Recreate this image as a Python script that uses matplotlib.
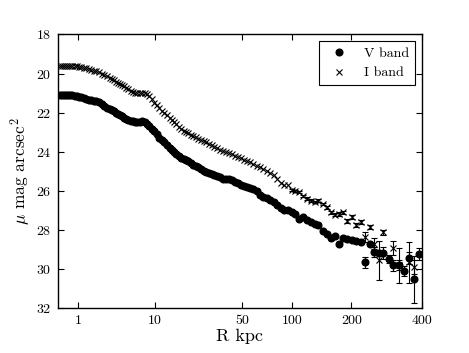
import numpy as np
import matplotlib
matplotlib.use("Agg")
import matplotlib.pyplot as plt
from matplotlib.ticker import NullLocator

plt.rcParams['font.family'] = 'cmr10'
plt.rcParams['mathtext.fontset'] = 'cm'
plt.rcParams['axes.unicode_minus'] = False
plt.rcParams['axes.formatter.use_mathtext'] = True

# radii (kpc) and surface brightness
r_kpc = [0.45, 0.50, 0.55, 0.60, 0.66, 0.72, 0.79, 0.87, 0.95, 1.04, 1.14, 1.25, 1.37, 1.50,
         1.64, 1.79, 1.96, 2.14, 2.34, 2.56, 2.80, 3.06, 3.25, 3.45, 3.66, 3.88, 4.11, 4.36,
         4.62, 4.90, 5.19, 5.50, 5.83, 6.18, 6.55, 6.94, 7.36, 7.80, 8.27, 8.77, 9.30, 9.86,
         10.4, 11.0, 11.6, 12.3, 13.0, 13.7, 14.4, 15.1, 15.8, 16.6, 17.4, 18.2, 19.1, 20.0,
         21.0, 22.0, 23.0, 24.1, 25.3, 26.5, 27.8, 29.2, 30.6, 32.0, 33.6, 35.2, 37.0, 38.7,
         40.6, 42.6, 44.6, 46.8, 49.0, 51.5, 54.0, 56.5, 59.0, 62.0, 65.0, 68.0, 71.5, 75.0,
         78.5, 82.5, 86.5, 90.5, 95.0]
mu_v = [21.10, 21.10, 21.10, 21.10, 21.11, 21.11, 21.12, 21.14, 21.16, 21.18, 21.21, 21.25, 21.29, 21.33,
        21.37, 21.40, 21.43, 21.47, 21.55, 21.65, 21.74, 21.82, 21.88, 21.94, 22.00, 22.06, 22.12, 22.18,
        22.25, 22.31, 22.37, 22.42, 22.45, 22.46, 22.47, 22.46, 22.45, 22.49, 22.58, 22.70, 22.82, 22.95,
        23.10, 23.28, 23.40, 23.50, 23.64, 23.82, 23.92, 24.02, 24.12, 24.22, 24.32, 24.38, 24.45, 24.50,
        24.58, 24.66, 24.74, 24.80, 24.88, 24.97, 25.04, 25.10, 25.14, 25.18, 25.25, 25.32, 25.38, 25.40,
        25.42, 25.46, 25.53, 25.62, 25.70, 25.76, 25.80, 25.86, 25.90, 26.00, 26.20, 26.32, 26.36, 26.45,
        26.55, 26.74, 26.90, 26.98, 27.00]
mu_i = [19.60, 19.60, 19.60, 19.60, 19.60, 19.61, 19.61, 19.62, 19.63, 19.65, 19.67, 19.70, 19.73, 19.77,
        19.81, 19.85, 19.89, 19.94, 20.00, 20.07, 20.15, 20.23, 20.29, 20.35, 20.41, 20.47, 20.53, 20.59,
        20.66, 20.73, 20.80, 20.87, 20.93, 20.97, 20.99, 21.00, 21.00, 21.01, 21.05, 21.15, 21.32, 21.50,
        21.62, 21.76, 21.90, 22.02, 22.14, 22.27, 22.38, 22.50, 22.60, 22.72, 22.85, 22.93, 23.00, 23.06,
        23.13, 23.20, 23.27, 23.33, 23.40, 23.46, 23.52, 23.60, 23.68, 23.76, 23.83, 23.90, 23.96, 24.02,
        24.08, 24.14, 24.20, 24.28, 24.34, 24.42, 24.48, 24.55, 24.63, 24.72, 24.80, 24.88, 24.98, 25.08,
        25.20, 25.38, 25.58, 25.68, 25.72]

# outer points with error bars
r_tail_v = [99.5, 104, 109, 114.5, 120, 126, 132, 138, 145, 152, 159, 167, 175, 183, 192, 201, 211,
            221, 232, 243, 254, 266, 278, 294, 306, 323, 339, 355, 373, 390]
mu_v_tail = [27.09, 27.20, 27.43, 27.36, 27.50, 27.58, 27.68, 27.77, 28.05, 28.20, 28.40, 28.33, 28.74,
             28.42, 28.45, 28.52, 28.55, 28.62, 29.65, 28.74, 29.13, 29.20, 29.20, 29.51, 29.82, 29.82,
             30.12, 29.45, 30.54, 29.24]
err_v_tail = [0, 0, 0, 0, 0, 0, 0, 0, 0, 0, 0, 0, 0, 0, 0, 0, 0, 0, 0.28, 0, 0.26, 0.15, 0.3, 0.2,
              0.3, 0.9, 0.25, 0.3, 1.2, 0.3]
r_tail_i = [99.5, 104, 109, 114.5, 120, 126, 132, 138, 145, 152, 159, 167, 175, 183, 192, 201, 211,
            221, 232, 243, 254, 266, 278, 306, 323, 355, 373]
mu_i_tail = [25.95, 26.02, 26.08, 26.28, 26.40, 26.50, 26.58, 26.50, 26.68, 26.85, 27.10, 27.22, 27.20,
             27.10, 27.55, 27.36, 27.75, 27.62, 28.37, 27.86, 28.70, 29.56, 28.13, 28.93, 29.80, 29.65,
             29.90]
err_i_tail = [0.05, 0.05, 0.05, 0.05, 0.06, 0.06, 0.06, 0.07, 0.07, 0.08, 0.08, 0.08, 0.09, 0.09, 0.1,
              0.1, 0.1, 0.1, 0.25, 0.1, 0.3, 1.0, 0.12, 0.35, 0.25, 1.05, 0.35]

x_ticks = [1, 10, 50, 100, 200, 400]


def fwd(x):
    x = np.asarray(x, dtype=float)
    return np.sign(x) * np.abs(x) ** 0.25


def inv(x):
    x = np.asarray(x, dtype=float)
    return np.sign(x) * np.abs(x) ** 4


fig = plt.figure(figsize=(4.69, 3.53), dpi=100)
ax = fig.add_axes([0.1243, 0.1275, 0.7748, 0.7748])

ax.plot(r_kpc, mu_v, 'o', color='k', ms=4.8, label='V band')
ax.plot(r_kpc, mu_i, 'x', color='k', ms=4.2, mew=0.8, label='I band')
ax.errorbar(r_tail_v, mu_v_tail, yerr=err_v_tail, fmt='o', color='k', ms=4.8,
            ecolor='k', elinewidth=0.8, capsize=2.5, capthick=0.8)
ax.errorbar(r_tail_i, mu_i_tail, yerr=err_i_tail, fmt='x', color='k', ms=4.2, mew=0.8,
            ecolor='k', elinewidth=0.8, capsize=2.5, capthick=0.8)

ax.set_xscale('function', functions=(fwd, inv))
ax.set_xlim(0.8 ** 4, 400)
ax.set_xticks(x_ticks)
ax.set_xticklabels([str(t) for t in x_ticks])
ax.xaxis.set_minor_locator(NullLocator())

ax.set_ylim(32, 18)
ax.set_yticks(np.arange(18, 33, 2))

ax.tick_params(direction='in', top=True, right=True, length=4, width=0.8, labelsize=10, pad=5)
for s in ax.spines.values():
    s.set_linewidth(1.0)

ax.set_xlabel('R kpc', fontsize=13, labelpad=1)
ax.set_ylabel(r'$\mu$ mag arcsec$^2$', fontsize=12.5, labelpad=2)

leg = ax.legend(loc='upper right', numpoints=1, fontsize=10, fancybox=False,
                edgecolor='k', framealpha=1)
leg.get_frame().set_linewidth(0.8)

fig.savefig('out.png', dpi=100)
